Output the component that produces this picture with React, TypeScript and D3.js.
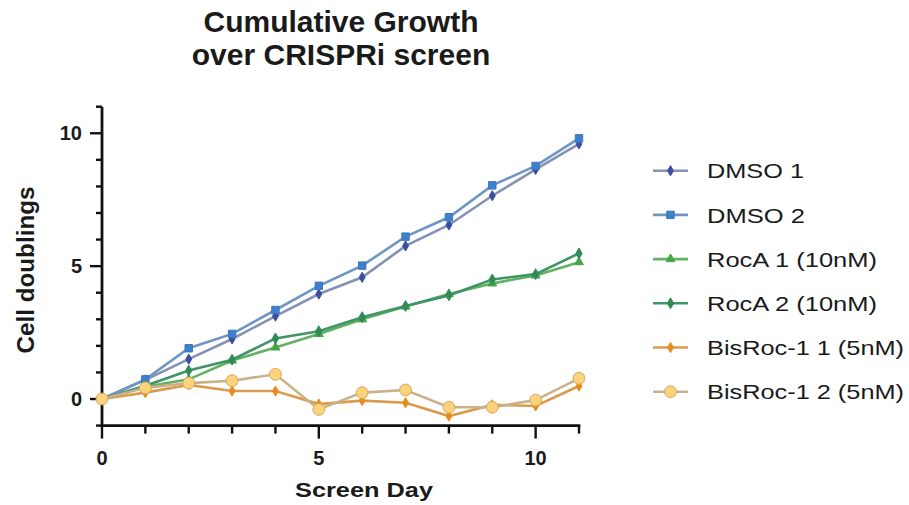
import React from 'react'
import * as d3 from 'd3'

const days = [0, 1, 2, 3, 4, 5, 6, 7, 8, 9, 10, 11]
const dmso1 = [0, 0.72, 1.5, 2.26, 3.12, 3.95, 4.58, 5.76, 6.55, 7.65, 8.64, 9.6]
const dmso2 = [0, 0.74, 1.91, 2.45, 3.35, 4.26, 5.02, 6.11, 6.84, 8.04, 8.77, 9.81]
const rocA1 = [0, 0.46, 0.74, 1.45, 1.94, 2.45, 3.0, 3.48, 3.95, 4.35, 4.65, 5.15]
const rocA2 = [0, 0.5, 1.07, 1.48, 2.28, 2.55, 3.08, 3.5, 3.9, 4.5, 4.7, 5.48]
const bisRoc1 = [0, 0.24, 0.53, 0.3, 0.3, -0.19, -0.06, -0.14, -0.64, -0.22, -0.26, 0.49]
const bisRoc2 = [0, 0.42, 0.6, 0.69, 0.93, -0.39, 0.24, 0.34, -0.31, -0.31, -0.04, 0.78]

const seriesNames = ['DMSO 1', 'DMSO 2', 'RocA 1 (10nM)', 'RocA 2 (10nM)', 'BisRoc-1 1 (5nM)', 'BisRoc-1 2 (5nM)']
const seriesValues = [dmso1, dmso2, rocA1, rocA2, bisRoc1, bisRoc2]
const xTickLabels = [0, 5, 10]
const yTickLabels = [0, 5, 10]

// line colour, marker fill, marker stroke, symbol, symbol area
const styles = [
  { line: '#8592b6', fill: '#3b4f9e', stroke: '#3b4f9e', sym: d3.symbolDiamond, size: 30 },
  { line: '#6e96c4', fill: '#3f80cc', stroke: '#3a76bd', sym: d3.symbolSquare, size: 55 },
  { line: '#62b062', fill: '#45a645', stroke: '#45a645', sym: d3.symbolTriangle, size: 34 },
  { line: '#3f9468', fill: '#2f8a55', stroke: '#2f8a55', sym: d3.symbolDiamond, size: 34 },
  { line: '#d99c4e', fill: '#ea8c1d', stroke: '#ea8c1d', sym: d3.symbolDiamond, size: 30 },
  { line: '#cbb08a', fill: '#fcd27a', stroke: '#d3a860', sym: d3.symbolCircle, size: 110 },
]
const legendWidths = [97, 98, 170, 170, 197, 197]

const font = 'Liberation Sans, Arial, sans-serif'

export default function App() {
  const width = 909
  const height = 505
  const x = d3.scaleLinear().domain([0, 11]).range([102, 579])
  const y = d3.scaleLinear().domain([-1, 11]).range([425.6, 106.7])

  const line = d3.line<number>()
    .x((d, i) => x(days[i]))
    .y(d => y(d))

  const xMinor = d3.range(0, 12)
  const yMinor = d3.range(-1, 12)

  return (
    <svg width={width} height={height} style={{ position: 'absolute', left: 0, top: 0, background: '#fff' }}
      fontFamily={font}>
      {/* title */}
      <text x={341} y={31.5} textAnchor="middle" fontSize={30} fontWeight="bold" fill="#1a1a1a">Cumulative Growth</text>
      <text x={341} y={65} textAnchor="middle" fontSize={30} fontWeight="bold" fill="#1a1a1a">over CRISPRi screen</text>

      {/* y axis */}
      <line x1={x(0)} x2={x(0)} y1={y(11)} y2={y(-1)} stroke="#111" strokeWidth={2.8} />
      {yMinor.map(v => (
        <line key={'ym' + v} x1={x(0)} x2={x(0) - (yTickLabels.includes(v) ? 12 : 6)} y1={y(v)} y2={y(v)}
          stroke="#111" strokeWidth={2.4} />
      ))}
      {yTickLabels.map(v => (
        <text key={'yl' + v} x={82} y={y(v) + 7} textAnchor="end" fontSize={20} fontWeight="bold" fill="#1a1a1a">{v}</text>
      ))}
      <text transform={`translate(33.5,270) rotate(-90)`} textAnchor="middle" fontSize={23} fontWeight="bold"
        fill="#1a1a1a" textLength={167} lengthAdjust="spacingAndGlyphs">Cell doublings</text>

      {/* x axis */}
      <line x1={x(0) - 1.4} x2={x(11) + 1.4} y1={y(-1)} y2={y(-1)} stroke="#111" strokeWidth={2.8} />
      {xMinor.map(v => (
        <line key={'xm' + v} x1={x(v)} x2={x(v)} y1={y(-1)} y2={y(-1) + (xTickLabels.includes(v) ? 13 : 8)}
          stroke="#111" strokeWidth={2.4} />
      ))}
      {xTickLabels.map(v => (
        <text key={'xl' + v} x={x(v)} y={465} textAnchor="middle" fontSize={20} fontWeight="bold" fill="#1a1a1a">{v}</text>
      ))}
      <text x={364} y={497} textAnchor="middle" fontSize={21} fontWeight="bold" fill="#1a1a1a"
        textLength={138} lengthAdjust="spacingAndGlyphs">Screen Day</text>

      {/* series */}
      {seriesValues.map((vals, s) => (
        <g key={'s' + s}>
          <path d={line(vals) || ''} fill="none" stroke={styles[s].line} strokeWidth={2.6} />
          {vals.map((v, i) => (
            <path key={i} d={d3.symbol().type(styles[s].sym).size(styles[s].size)() || ''}
              transform={`translate(${x(days[i])},${y(v)})`} fill={styles[s].fill} stroke={styles[s].stroke}
              strokeWidth={1} />
          ))}
        </g>
      ))}

      {/* legend */}
      {seriesNames.map((name, s) => {
        const cy = 170.7 + s * 44.2
        return (
          <g key={'lg' + s}>
            <line x1={653} x2={688} y1={cy} y2={cy} stroke={styles[s].line} strokeWidth={2.6} />
            <path d={d3.symbol().type(styles[s].sym).size(styles[s].size)() || ''}
              transform={`translate(670.5,${cy})`} fill={styles[s].fill} stroke={styles[s].stroke} strokeWidth={1} />
            <text x={707} y={cy + 7.7} fontSize={21} fill="#1a1a1a" textLength={legendWidths[s]}
              lengthAdjust="spacingAndGlyphs">{name}</text>
          </g>
        )
      })}
    </svg>
  )
}
